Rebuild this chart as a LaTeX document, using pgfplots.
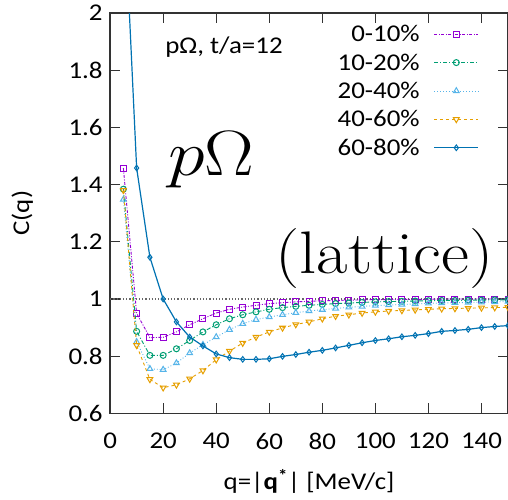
\RequirePackage{fix-cm}
\documentclass[border=0pt]{standalone}
\usepackage{graphicx}
\usepackage{pgfplots}
\pgfplotsset{compat=1.18}
\usepackage{fontspec}
\newfontfamily\carlito[FakeStretch=1.12]{Carlito}
\definecolor{cpur}{HTML}{9400D3}
\definecolor{cgrn}{HTML}{009E73}
\definecolor{ccya}{HTML}{56B4E9}
\definecolor{cora}{HTML}{E69F00}
\definecolor{cblu}{HTML}{0072B2}
\begin{document}
\begin{tikzpicture}
\begin{axis}[
  at={(0pt,0pt)}, anchor=south west,
  scale only axis, width=397.5pt, height=400pt,
  xmin=0, xmax=150, ymin=0.6, ymax=2,
  xtick={0,20,...,140}, ytick={0.6,0.8,...,2.01},
  tick align=inside, major tick length=10pt,
  xtick pos=both, ytick pos=both,
  axis line style={black!80, line width=1.5pt},
  tick style={black!80, line width=1.2pt},
  /pgf/number format/assume math mode=true,
  /pgf/number format/fixed,
  tick label style={font=\carlito\fontsize{24}{28}\selectfont, black},
  xticklabel shift=16pt, yticklabel shift=4pt,
  xlabel={q=|\textbf{q}\textsuperscript{\textbf{*}}| [MeV/c]},
  ylabel={C(q)},
  every axis x label/.style={at={(axis description cs:0.5,-0.17)}, anchor=center, font=\carlito\fontsize{24}{28}\selectfont},
  every axis y label/.style={at={(axis description cs:-0.221,0.5)}, rotate=90, anchor=center, font=\carlito\fontsize{24}{28}\selectfont},
  clip marker paths=true,
  legend plot pos=right, legend cell align=right,
  legend style={at={(axis description cs:0.935,0.98)}, anchor=north east, draw=none, fill=none,
    font=\carlito\fontsize{24}{28}\selectfont, row sep=6.5pt,
    /tikz/every odd column/.append style={column sep=12pt}},
  legend image code/.code={\draw[mark repeat=2,mark phase=2] plot coordinates {(0pt,0pt)(22pt,0pt)(44pt,0pt)};},
]
\addplot[black!60, dotted, line width=1.2pt, forget plot] coordinates {(0,1) (150,1)};
\addplot[cpur, line width=0.9pt, dash pattern=on 3pt off 1.5pt on 1pt off 1.5pt, mark=square, mark size=3pt, mark options={solid, line width=1pt}] coordinates {
(5,1.458)(10,0.950)(15,0.865)(20,0.866)(25,0.885)(30,0.910)(35,0.931)(40,0.951)(45,0.964)(50,0.972)
(55,0.978)(60,0.984)(65,0.987)(70,0.990)(75,0.992)(80,0.994)(85,0.995)(90,0.996)(95,0.997)(100,0.998)
(105,0.998)(110,0.999)(115,0.999)(120,0.999)(125,1.000)(130,1.000)(135,1.000)(140,1.000)(145,1.000)(150,1.000)};
\addlegendentry{0-10\%}
\addplot[cgrn, line width=0.9pt, dash pattern=on 4pt off 2pt on 1pt off 2pt, mark=o, mark size=3pt, mark options={solid, line width=1pt}] coordinates {
(5,1.384)(10,0.887)(15,0.803)(20,0.803)(25,0.826)(30,0.855)(35,0.885)(40,0.910)(45,0.931)(50,0.945)
(55,0.955)(60,0.964)(65,0.970)(70,0.9745)(75,0.978)(80,0.981)(85,0.984)(90,0.986)(95,0.988)(100,0.990)
(105,0.991)(110,0.992)(115,0.993)(120,0.994)(125,0.995)(130,0.995)(135,0.996)(140,0.996)(145,0.997)(150,0.997)};
\addlegendentry{10-20\%}
\addplot[ccya, line width=0.9pt, dotted, mark=triangle, mark size=3.3pt, mark options={solid, line width=1pt}] coordinates {
(5,1.348)(10,0.850)(15,0.756)(20,0.753)(25,0.776)(30,0.811)(35,0.840)(40,0.867)(45,0.893)(50,0.914)
(55,0.928)(60,0.937)(65,0.945)(70,0.952)(75,0.958)(80,0.963)(85,0.967)(90,0.971)(95,0.974)(100,0.977)
(105,0.979)(110,0.981)(115,0.983)(120,0.985)(125,0.986)(130,0.987)(135,0.988)(140,0.989)(145,0.990)(150,0.991)};
\addlegendentry{20-40\%}
\addplot[cora, line width=0.9pt, dash pattern=on 3pt off 3pt, mark=triangle, mark size=3.3pt, mark options={solid, line width=1pt, rotate=180}] coordinates {
(5,1.380)(10,0.838)(15,0.719)(20,0.690)(25,0.700)(30,0.721)(35,0.750)(40,0.788)(45,0.818)(50,0.846)
(55,0.867)(60,0.885)(65,0.899)(70,0.911)(75,0.920)(80,0.931)(85,0.940)(90,0.945)(95,0.951)(100,0.955)
(105,0.958)(110,0.960)(115,0.962)(120,0.964)(125,0.966)(130,0.967)(135,0.968)(140,0.969)(145,0.970)(150,0.971)};
\addlegendentry{40-60\%}
\addplot[cblu, line width=1.2pt, mark=diamond, mark size=2.8pt, mark options={solid, line width=1pt}] coordinates {
(5,2.450)(10,1.458)(15,1.146)(20,1.000)(25,0.920)(30,0.867)(35,0.836)(40,0.808)(45,0.795)(50,0.789)
(55,0.789)(60,0.791)(65,0.7995)(70,0.806)(75,0.814)(80,0.8205)(85,0.829)(90,0.838)(95,0.847)(100,0.855)
(105,0.861)(110,0.868)(115,0.873)(120,0.879)(125,0.887)(130,0.890)(135,0.894)(140,0.900)(145,0.904)(150,0.907)};
\addlegendentry{60-80\%}
\node[anchor=west, inner sep=0pt, font=\carlito\fontsize{24}{28}\selectfont] at (axis cs:20.75,1.881) {pΩ, t/a=12};
\node[anchor=base west, inner sep=0pt, font=\fontsize{64}{70}\selectfont] at (axis cs:21.9,1.433) {\scalebox{1.16}[1]{$p\Omega$}};
\node[anchor=base west, inner sep=0pt, font=\fontsize{60}{66}\selectfont] at (axis cs:62.3,1.09) {\scalebox{1.14}[1]{(lattice)}};
\end{axis}
\pgfresetboundingbox
\useasboundingbox (-110pt,-86pt) rectangle (397.5pt,413pt);
\end{tikzpicture}
\end{document}
